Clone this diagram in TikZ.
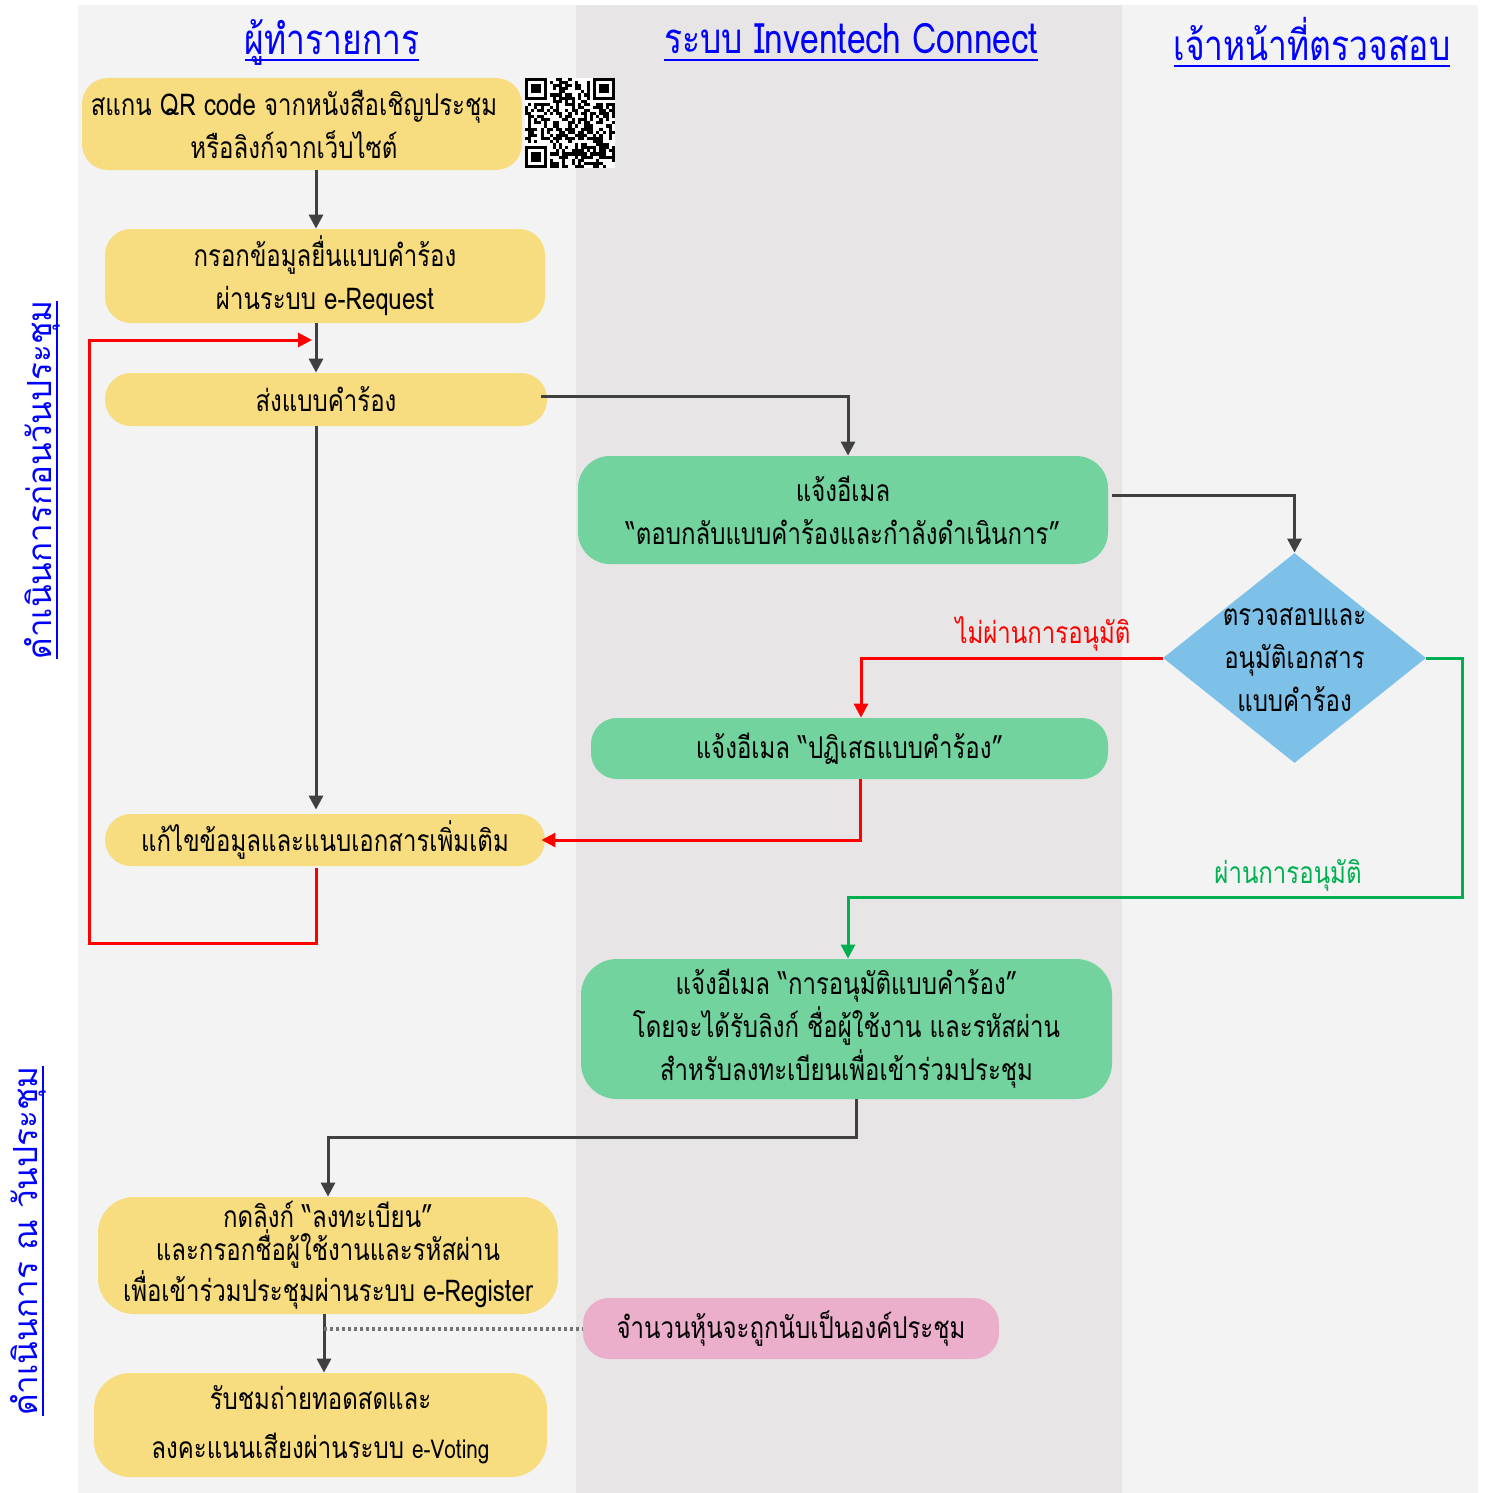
\documentclass[tikz,border=0pt]{standalone}
\usepackage{fontspec}
\setmainfont[Script=Thai,FakeStretch=0.8]{Loma}
\newfontfamily\sidefont[Script=Thai]{Loma}
\usetikzlibrary{shapes.geometric,arrows.meta}
\newcommand\myul[1]{\sbox0{#1}\usebox0\kern-\wd0\rule[-3.5pt]{\wd0}{0.9pt}}
\definecolor{laneA}{HTML}{F2F3F2}
\definecolor{laneB}{HTML}{E7E5E6}
\definecolor{yel}{HTML}{F7DC80}
\definecolor{grn}{HTML}{72D39E}
\definecolor{blu}{HTML}{7DC0E8}
\definecolor{pnk}{HTML}{EBAECB}
\definecolor{dk}{HTML}{404040}
\definecolor{okgrn}{HTML}{00B050}
\definecolor{hblue}{HTML}{0000FF}
\begin{document}
\begin{tikzpicture}[x=0.5pt,y=-0.5pt,
  box/.style={rounded corners=13pt, align=center, inner sep=0pt,
    font={\fontsize{15pt}{21.5pt}\selectfont}},
  ybox/.style={box, fill=yel},
  gbox/.style={box, fill=grn},
  hdr/.style={text=hblue, font={\fontsize{21pt}{23pt}\selectfont}},
  side/.style={text=hblue, rotate=90, font={\sidefont\fontsize{16.6pt}{19pt}\selectfont}},
  arr/.style={draw=dk, line width=1.5pt, -{Triangle[length=7pt,width=7pt]}},
  rarr/.style={arr, draw=red},
  garr/.style={arr, draw=okgrn},
  lbl/.style={font={\fontsize{15pt}{17pt}\selectfont}}]
\useasboundingbox (0,0) rectangle (1486,1493);
% lanes
\fill[laneA] (78,5) rectangle (576,1493);
\fill[laneB] (576,5) rectangle (1122,1493);
\fill[laneA] (1122,5) rectangle (1478,1493);
% headers
\node[hdr] (h1) at (332,42) {\myul{ผู้ทำรายการ}};
\node[hdr] (h2) at (851,42) {\myul{ระบบ Inventech Connect}};
\node[hdr] (h3) at (1312,42) {\myul{เจ้าหน้าที่ตรวจสอบ}};
% side labels
\node[side] (s1) at (42,480) {\myul{ดำเนินการก่อนวันประชุม}};
\node[side] (s2) at (28,1241) {\myul{ดำเนินการ ณ วันประชุม}};
% nodes
\node[ybox, minimum width=220pt, minimum height=46pt] (q1) at (302,124)
  {\hspace*{-8pt}สแกน QR code จากหนังสือเชิญประชุม\\\hspace*{-8pt}หรือลิงก์จากเว็บไซต์};
\node[ybox, minimum width=220pt, minimum height=47pt] (q2) at (325,276)
  {กรอกข้อมูลยื่นแบบคำร้อง\\ผ่านระบบ e-Request};
\node[ybox, minimum width=221pt, minimum height=26.5pt] (q3) at (326,399.5)
  {ส่งแบบคำร้อง};
\node[gbox, rounded corners=16pt, minimum width=265pt, minimum height=54pt] (g1) at (843,510)
  {แจ้งอีเมล\\“ตอบกลับแบบคำร้องและกำลังดำเนินการ”};
\node[diamond, fill=blu, inner sep=0pt, minimum width=131.5pt, minimum height=105pt,
  shape aspect=1.25] (dia) at (1294.5,658) {};
\node[align=center, inner sep=0pt, font={\fontsize{15pt}{21.5pt}\selectfont}] (diatext)
  at ([yshift=-1pt]dia.center) {ตรวจสอบและ\\อนุมัติเอกสาร\\แบบคำร้อง};
\node[gbox, minimum width=258.5pt, minimum height=30.5pt] (g2) at (849.5,748.5)
  {แจ้งอีเมล “ปฏิเสธแบบคำร้อง”};
\node[ybox, minimum width=220pt, minimum height=26pt] (q4) at (325,840)
  {แก้ไขข้อมูลและแนบเอกสารเพิ่มเติม};
\node[gbox, rounded corners=18pt, minimum width=265.5pt, minimum height=70pt] (g3) at (846.5,1029)
  {แจ้งอีเมล “การอนุมัติแบบคำร้อง”\\โดยจะได้รับลิงก์ ชื่อผู้ใช้งาน และรหัสผ่าน\\สำหรับลงทะเบียนเพื่อเข้าร่วมประชุม};
\node[ybox, rounded corners=18pt, minimum width=230pt, minimum height=58.5pt,
  font={\fontsize{15pt}{16.5pt}\selectfont}] (q5) at (328,1255.5)
  {กดลิงก์ “ลงทะเบียน”\\และกรอกชื่อผู้ใช้งานและรหัสผ่าน\\เพื่อเข้าร่วมประชุมผ่านระบบ e-Register};
\node[box, fill=pnk, minimum width=208pt, minimum height=30.5pt] (pk) at (791,1328.5)
  {จำนวนหุ้นจะถูกนับเป็นองค์ประชุม};
\node[ybox, rounded corners=18pt, minimum width=226.5pt, minimum height=52pt,
  font={\fontsize{15pt}{24.5pt}\selectfont}] (q6) at (320.5,1425)
  {รับชมถ่ายทอดสดและ\\ลงคะแนนเสียงผ่านระบบ {\fontsize{13pt}{15pt}\selectfont e-Voting}};
% labels
\node[lbl, text=red] (lno) at (1043,634) {ไม่ผ่านการอนุมัติ};
\node[lbl, text=okgrn] (lok) at (1288,875) {ผ่านการอนุมัติ};
% QR code
\begin{scope}[shift={(525,78)}]
  \fill[white] (0,0) rectangle (90,90);
  \pgfmathsetseed{11}
  \foreach \i in {0,...,28}{
    \foreach \j in {0,...,28}{
      \pgfmathrandominteger{\rnd}{0}{1}
      \ifnum\rnd=1 \fill[black] ({\i*3.1},{\j*3.1}) rectangle ++(3.1,3.1);\fi
    }}
  \foreach \cx/\cy in {0/0, 22/0, 0/22}{
    \fill[white] ({max(\cx-1,0)*3.1},{max(\cy-1,0)*3.1}) rectangle ++(24.8,24.8);
    \fill[black] ({\cx*3.1},{\cy*3.1}) rectangle ++(21.7,21.7);
    \fill[white] ({(\cx+1)*3.1},{(\cy+1)*3.1}) rectangle ++(15.5,15.5);
    \fill[black] ({(\cx+2)*3.1},{(\cy+2)*3.1}) rectangle ++(9.3,9.3);
  }
\end{scope}
% coordinates
\coordinate (xL) at (316,0);
\coordinate (loopcorner) at (89,340);
\coordinate (loopend) at (312,340);
\coordinate (okcorner) at (1462,897);
\coordinate (dotstart) at (324,1328.5);
% connectors
\draw[arr] (q1.south -| xL) -- (q2.north -| xL);
\draw[arr] (q2.south -| xL) -- (q3.north -| xL);
\draw[arr] (q3.south -| xL) -- ([yshift=2pt]q4.north -| xL);
\draw[arr] ([xshift=-3pt,yshift=1.5pt]q3.east) -| ([xshift=2.5pt]g1.north);
\draw[arr] ([xshift=2pt,yshift=7.5pt]g1.east) -| (dia.north);
\draw[rarr] (dia.west) -| ([xshift=5.75pt]g2.north);
\draw[rarr] ([xshift=5.25pt]g2.south) |- ([xshift=-2pt]q4.east);
\draw[rarr] ([yshift=-1pt]q4.south -| xL) -- ++(0,75) -| (loopcorner) -- (loopend);
\draw[garr] (dia.east) -| (okcorner) -| ([xshift=0.75pt]g3.north);
\draw[arr] ([xshift=4.75pt]g3.south) -- ++(0,38) -| (q5.north);
\draw[arr] (q5.south -| dotstart) -- (q6.north -| dotstart);
\draw[black!55, line width=2pt, dash pattern=on 1.5pt off 1.5pt] (dotstart) -- (pk.west);
\end{tikzpicture}
\end{document}
